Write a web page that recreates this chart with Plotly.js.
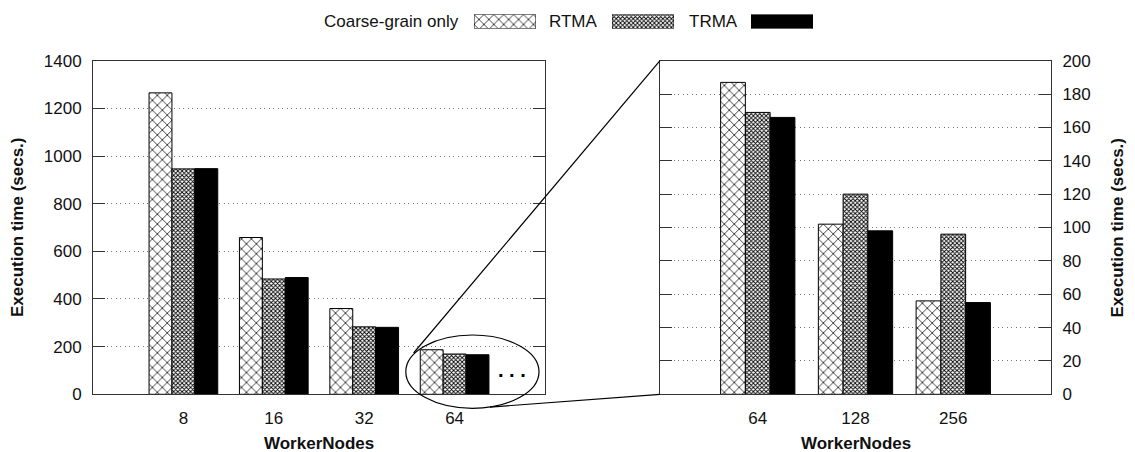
<!DOCTYPE html>
<html>
<head>
<meta charset="utf-8">
<script src="https://cdn.plot.ly/plotly-3.0.1.min.js"></script>
<style>html,body{margin:0;padding:0;background:#fff}#chart{width:1135px;height:452px}</style>
</head>
<body>
<div id="chart"></div>
<script>
// ---- data ----
const seriesNames = ['Coarse-grain only', 'RTMA', 'TRMA'];
const categoriesLeft = ['8', '16', '32', '64'];
const coarseLeft = [1265, 658, 360, 187];
const rtmaLeft = [946, 484, 283, 169];
const trmaLeft = [947, 490, 281, 166];
const categoriesRight = ['64', '128', '256'];
const coarseRight = [187, 102, 56];
const rtmaRight = [169, 120, 96];
const trmaRight = [166, 98, 55];
const legendKey = [1];
const yTitle = 'Execution time (secs.)';
const xTitle = 'WorkerNodes';

// ---- layout helpers ----
const W = 1135, H = 452;
const px = x => x / W;
const py = y => 1 - y / H;
const FONT = 'Liberation Sans, Arial, Helvetica, sans-serif';
const FS = 17;

const styles = [
  {color: 'white', pattern: {shape: 'x', size: 7, solidity: 0.2, fgcolor: 'black', bgcolor: 'white'}},
  {color: 'white', pattern: {shape: 'x', size: 3, solidity: 0.5, fgcolor: 'black', bgcolor: 'white'}},
  {color: 'black'}
];

function barTrace(name, cats, vals, idx, xa, ya) {
  return {
    type: 'bar', name: name, x: cats, y: vals, xaxis: xa, yaxis: ya,
    marker: Object.assign({line: {color: 'black', width: 1}}, styles[idx]),
    showlegend: false, hoverinfo: 'x+y+name'
  };
}

const traces = [
  barTrace(seriesNames[0], categoriesLeft, coarseLeft, 0, 'x', 'y'),
  barTrace(seriesNames[1], categoriesLeft, rtmaLeft, 1, 'x', 'y'),
  barTrace(seriesNames[2], categoriesLeft, trmaLeft, 2, 'x', 'y'),
  barTrace(seriesNames[0], categoriesRight, coarseRight, 0, 'x2', 'y2'),
  barTrace(seriesNames[1], categoriesRight, rtmaRight, 1, 'x2', 'y2'),
  barTrace(seriesNames[2], categoriesRight, trmaRight, 2, 'x2', 'y2')
];
// legend key swatches, one small subplot each
const keyAxes = [['x5', 'y5'], ['x6', 'y6'], ['x7', 'y7']];
seriesNames.forEach((n, i) => {
  const t = barTrace(n, [n], legendKey, i, keyAxes[i][0], keyAxes[i][1]);
  t.width = 1; t.hoverinfo = 'skip';
  traces.push(t);
});

const yDom = [py(394.3), py(60.7)];
const axLine = {showline: true, linecolor: '#333', linewidth: 1};
const tickFont = {family: FONT, size: FS, color: '#111'};

const layout = {
  width: W, height: H,
  margin: {l: 0, r: 0, t: 0, b: 0},
  paper_bgcolor: 'white', plot_bgcolor: 'white',
  barmode: 'group', bargap: 0.24, bargroupgap: 0,
  showlegend: false,
  font: {family: FONT, size: FS, color: '#111'},
  xaxis: Object.assign({}, axLine, {
    domain: [px(93), px(545)], anchor: 'y', type: 'category',
    categoryorder: 'array', categoryarray: categoriesLeft,
    range: [-1, 4], mirror: true, ticks: '', showgrid: false,
    tickfont: tickFont, ticklabelstandoff: 8, fixedrange: true
  }),
  xaxis3: {
    overlaying: 'x', anchor: 'y', side: 'top', type: 'linear', range: [-1, 4],
    tickvals: categoriesLeft.map((_, i) => i), ticks: 'inside', ticklen: 12,
    tickcolor: '#333', showticklabels: false, showgrid: false, showline: false, zeroline: false
  },
  yaxis: Object.assign({}, axLine, {
    domain: yDom, anchor: 'x', range: [0, 1400], dtick: 200,
    mirror: 'ticks', ticks: 'inside', ticklen: 12, tickcolor: '#333',
    showgrid: true, gridcolor: '#777', griddash: '1px,3.5px', gridwidth: 1,
    zeroline: false, tickfont: tickFont, ticklabelstandoff: 7, fixedrange: true
  }),
  xaxis2: Object.assign({}, axLine, {
    domain: [px(660), px(1051)], anchor: 'y2', type: 'category',
    categoryorder: 'array', categoryarray: categoriesRight,
    range: [-1, 3], mirror: true, ticks: '', showgrid: false,
    tickfont: tickFont, ticklabelstandoff: 8, fixedrange: true
  }),
  xaxis4: {
    overlaying: 'x2', anchor: 'y2', side: 'top', type: 'linear', range: [-1, 3],
    tickvals: categoriesRight.map((_, i) => i), ticks: 'inside', ticklen: 12,
    tickcolor: '#333', showticklabels: false, showgrid: false, showline: false, zeroline: false
  },
  yaxis2: Object.assign({}, axLine, {
    domain: yDom, anchor: 'x2', side: 'right', range: [0, 200], dtick: 20,
    mirror: 'ticks', ticks: 'inside', ticklen: 12, tickcolor: '#333',
    showgrid: true, gridcolor: '#777', griddash: '1px,3.5px', gridwidth: 1,
    zeroline: false, tickfont: tickFont, ticklabelstandoff: 7, fixedrange: true
  }),
  shapes: [
    {type: 'circle', xref: 'paper', yref: 'paper',
     x0: px(405.8), x1: px(539), y0: py(408.3), y1: py(335),
     line: {color: 'black', width: 1.2}},
    {type: 'line', xref: 'paper', yref: 'paper',
     x0: px(413.6), y0: py(353), x1: px(660), y1: py(60.7),
     line: {color: 'black', width: 1.2}},
    {type: 'line', xref: 'paper', yref: 'paper',
     x0: px(490), y0: py(407.1), x1: px(660), y1: py(394.3),
     line: {color: 'black', width: 1.2}}
  ],
  annotations: [
    {text: seriesNames[0], xref: 'paper', yref: 'paper', x: px(461), y: py(21.5), xanchor: 'right', yanchor: 'middle', showarrow: false, font: {family: FONT, size: FS, color: '#111'}},
    {text: seriesNames[1], xref: 'paper', yref: 'paper', x: px(600), y: py(21.5), xanchor: 'right', yanchor: 'middle', showarrow: false, font: {family: FONT, size: FS, color: '#111'}},
    {text: seriesNames[2], xref: 'paper', yref: 'paper', x: px(740), y: py(21.5), xanchor: 'right', yanchor: 'middle', showarrow: false, font: {family: FONT, size: FS, color: '#111'}},
    {text: '<b>' + xTitle + '</b>', xref: 'paper', yref: 'paper', x: px(319), y: py(443.5), xanchor: 'center', yanchor: 'middle', showarrow: false, font: {family: FONT, size: FS, color: '#111'}},
    {text: '<b>' + xTitle + '</b>', xref: 'paper', yref: 'paper', x: px(855.5), y: py(443.5), xanchor: 'center', yanchor: 'middle', showarrow: false, font: {family: FONT, size: FS, color: '#111'}},
    {text: '<b>' + yTitle + '</b>', xref: 'paper', yref: 'paper', x: px(17.5), y: py(227.5), xanchor: 'center', yanchor: 'middle', textangle: -90, showarrow: false, font: {family: FONT, size: FS, color: '#111'}},
    {text: '<b>' + yTitle + '</b>', xref: 'paper', yref: 'paper', x: px(1117), y: py(227.5), xanchor: 'center', yanchor: 'middle', textangle: -90, showarrow: false, font: {family: FONT, size: FS, color: '#111'}},
    {text: '<b>. . .</b>', xref: 'paper', yref: 'paper', x: px(512), y: py(370), xanchor: 'center', yanchor: 'middle', showarrow: false, font: {family: FONT, size: 20, color: 'black'}}
  ]
};
// legend swatch subplots
const keyLeft = [474, 612, 751];
keyAxes.forEach((a, i) => {
  const xn = 'xaxis' + a[0].slice(1), yn = 'yaxis' + a[1].slice(1);
  layout[xn] = {domain: [px(keyLeft[i]), px(keyLeft[i] + 62)], anchor: a[1], type: 'category',
    range: [-0.5, 0.5], visible: false, fixedrange: true};
  layout[yn] = {domain: [py(28.5), py(14.5)], anchor: a[0], range: [0, 1], visible: false, fixedrange: true};
});

Plotly.newPlot('chart', traces, layout, {displayModeBar: false, staticPlot: true});
</script>
</body>
</html>
